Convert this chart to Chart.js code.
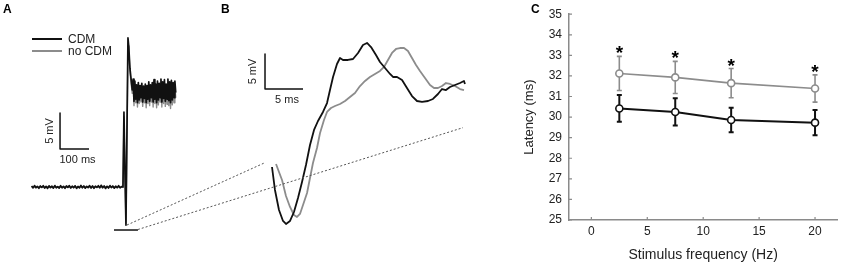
<!DOCTYPE html>
<html>
<head>
<meta charset="utf-8">
<script src="https://cdn.jsdelivr.net/npm/chart.js@4"></script>
<style>
  html, body { margin: 0; padding: 0; background: #fff; }
  #wrap { position: relative; width: 843px; height: 264px; overflow: hidden; }
  #traces { position: absolute; left: 0; top: 0; width: 500px; height: 264px; }
  #latency { position: absolute; left: 500px; top: 0; width: 343px; height: 264px; }
</style>
</head>
<body>
<div id="wrap">
  <canvas id="traces" width="500" height="264"></canvas>
  <canvas id="latency" width="343" height="264"></canvas>
</div>
<script>
const BLACK = '#111';
const GREY = '#8c8c8c';
const AXIS = '#8a8a8a';
const TEXT = '#222';
const FONT = '"Liberation Sans", Arial, sans-serif';

// ---- panel A: full recording, time in ms, voltage in mV ----
const aBaseStart = -315, aBaseStep = 5;
const aBaseBlack = [0.15, -0.12, 0.2, -0.1, 0.08, -0.18, 0.14, -0.05, 0.18, -0.15,
  0.1, -0.2, 0.16, -0.08, 0.12, -0.16, 0.2, -0.1, 0.06, -0.14,
  0.18, -0.12, 0.1, -0.18, 0.15, -0.06, 0.2, -0.15, 0.12, -0.1,
  0.17, -0.2, 0.08, -0.12, 0.22, -0.1, 0.14, -0.16, 0.1, -0.08,
  0.2, -0.14, 0.16, -0.18, 0.12, -0.06, 0.18, -0.12, 0.24, -0.1,
  0.15, -0.2, 0.1, -0.14, 0.2, -0.08, 0.14, -0.16, 0.12, -0.1,
  0.18, -0.12, 0.05];
const aSpikeBlack = [[0, 0], [3.4, 10.4], [6.9, 2], [10.3, -5.3], [13, 5], [17.2, 20.7],
  [20, 19.5], [24, 16.5], [28, 15], [32, 13.5]];
const aSpikeGrey = [[-315, 0], [0, 0], [3.4, 9.8], [6.9, 1.5], [10.3, -5.0], [13, 4],
  [17.5, 19.6], [20.5, 18.8], [24.5, 15.8], [28.5, 14.2], [32, 13]];
const aPlateauStart = 35, aPlateauStep = 3;
const aPlateauBlack = [15.0, 11.9, 14.7, 12.2, 14.2, 11.7, 14.5, 12.1, 14.1, 12.4,
  14.4, 11.8, 14.0, 12.3, 14.3, 11.7, 14.1, 12.2, 14.6, 11.9,
  14.2, 12.4, 14.5, 11.8, 14.9, 12.2, 14.3, 11.7, 14.7, 12.1,
  14.4, 12.4, 15.0, 11.8, 14.6, 12.3, 14.9, 11.9, 14.3, 12.2,
  15.0, 12.0, 14.6, 11.7, 14.8, 12.1, 14.5, 12.4, 14.7, 13.1];
const aPlateauGrey = [14.5, 11.3, 14.2, 11.7, 13.7, 11.1, 14.0, 11.6, 13.6, 11.8,
  13.9, 11.2, 13.5, 11.7, 13.8, 11.0, 13.6, 11.6, 14.1, 11.3,
  13.7, 11.8, 14.0, 11.1, 14.4, 11.6, 13.8, 11.0, 14.2, 11.4,
  13.9, 11.8, 14.5, 11.1, 14.1, 11.6, 14.4, 11.2, 13.8, 11.5,
  14.5, 11.3, 14.1, 10.9, 14.3, 11.4, 14.0, 11.7, 14.2, 12.4];
const aWindow = [[-31, -5.97], [51.7, -5.97]];
const aScaleBar = [[-217, 10.28], [-217, 5.28], [-117, 5.28]];

// ---- panel B: expanded response, time in ms, voltage in mV ----
const bBlack = [[0, -0.43], [0.39, -3.71], [0.92, -6.57], [1.45, -8.14], [1.84, -8.57],
  [2.37, -8.14], [2.89, -6.86], [3.42, -4.86], [3.95, -2.57], [4.47, -0.14],
  [5.0, 2.71], [5.53, 4.86], [6.05, 6.14], [6.71, 7.43], [7.24, 8.71],
  [7.63, 10.57], [8.03, 12.43], [8.55, 14.29], [8.95, 15.14], [9.34, 14.86],
  [10.0, 14.86], [10.66, 15.0], [11.32, 15.86], [11.97, 17.0], [12.5, 17.29],
  [13.03, 16.71], [13.68, 15.57], [14.21, 14.57], [14.87, 13.71], [15.53, 12.86],
  [15.92, 12.43], [16.45, 12.43], [17.11, 12.0], [17.76, 10.86], [18.42, 9.71],
  [19.08, 9.0], [19.74, 8.86], [20.53, 9.0], [21.18, 9.29], [21.84, 10.0],
  [22.37, 10.71], [22.89, 10.57], [23.42, 11.0], [24.08, 11.29], [24.74, 11.57],
  [25.26, 11.86], [25.39, 11.43]];
const bGrey = [[0.53, 0], [0.92, -1.14], [1.32, -2.29], [1.84, -4.57], [2.37, -6.14],
  [2.89, -7.29], [3.29, -7.57], [3.68, -7.14], [4.08, -5.86], [4.61, -4.14],
  [5.0, -2.0], [5.39, 0.14], [5.92, 2.29], [6.32, 4.43], [6.84, 6.29],
  [7.24, 7.43], [7.76, 8.0], [8.29, 8.29], [8.95, 8.57], [9.61, 9.0],
  [10.26, 9.57], [10.92, 10.14], [11.58, 11.14], [12.24, 11.86], [12.89, 12.43],
  [13.55, 12.86], [14.21, 13.29], [14.74, 13.86], [15.26, 14.86], [15.79, 15.86],
  [16.32, 16.43], [16.84, 16.57], [17.37, 16.57], [17.89, 16.14], [18.42, 15.14],
  [18.95, 14.14], [19.47, 13.29], [20.13, 12.29], [20.79, 11.29], [21.32, 10.86],
  [21.84, 10.86], [22.37, 11.14], [22.89, 11.57], [23.42, 11.43], [24.08, 11.14],
  [24.74, 10.71], [25.26, 10.57]];
const bScaleBar = [[-0.92, 15.71], [-0.92, 10.71], [4.08, 10.71]];

// dotted lines from the window in A (ms, mV) to the frame of B (ms, mV)
const zoomLinks = [
  { from: [13.8, -5.28], to: [-0.92, 0.19] },
  { from: [51.7, -5.9], to: [25.13, 5.19] }
];

// ---- panel C: latency vs stimulus frequency ----
const freqs = [2.5, 7.5, 12.5, 20];
const latNoCdm = [32.12, 31.93, 31.65, 31.39];
const semNoCdm = [0.83, 0.78, 0.71, 0.66];
const latCdm = [30.42, 30.25, 29.86, 29.73];
const semCdm = [0.65, 0.66, 0.6, 0.61];
const significant = [true, true, true, true];
const freqTicks = [0, 5, 10, 15, 20];

const pts = arr => arr.map(([x, y]) => ({ x, y }));
const sampled = (start, step, vals) => vals.map((y, i) => ({ x: start + i * step, y }));

const traceA = (base, spike, plateau) => [
  ...(base ? sampled(aBaseStart, aBaseStep, base) : []),
  ...pts(spike),
  ...sampled(aPlateauStart, aPlateauStep, plateau)
];

const line = (data, color, width, xs, ys) => ({
  data, xAxisID: xs, yAxisID: ys, borderColor: color, borderWidth: width,
  showLine: true, pointRadius: 0, fill: false, tension: 0, borderJoinStyle: 'round'
});

const tracesDecor = {
  id: 'tracesDecor',
  afterDatasetsDraw(chart) {
    const { ctx, scales: s } = chart;
    const px = (sx, sy, p) => [s[sx].getPixelForValue(p[0]), s[sy].getPixelForValue(p[1])];
    ctx.save();

    ctx.strokeStyle = '#555';
    ctx.lineWidth = 1;
    ctx.setLineDash([2, 2]);
    zoomLinks.forEach(l => {
      const a = px('xA', 'yA', l.from), b = px('xB', 'yB', l.to);
      ctx.beginPath();
      ctx.moveTo(a[0], a[1]);
      ctx.lineTo(b[0], b[1]);
      ctx.stroke();
    });
    ctx.setLineDash([]);

    ctx.fillStyle = '#000';
    ctx.font = 'bold 12px ' + FONT;
    ctx.textBaseline = 'top';
    ctx.fillText('A', 3, 4);
    ctx.fillText('B', 221, 4);

    // legend
    [['CDM', BLACK, 39], ['no CDM', GREY, 51]].forEach(([txt, col, y]) => {
      ctx.strokeStyle = col;
      ctx.lineWidth = 2;
      ctx.beginPath();
      ctx.moveTo(32, y);
      ctx.lineTo(62, y);
      ctx.stroke();
      ctx.fillStyle = TEXT;
      ctx.font = '12px ' + FONT;
      ctx.textBaseline = 'middle';
      ctx.textAlign = 'left';
      ctx.fillText(txt, 68, y + 1);
    });

    // scale bar labels
    const barLabels = (sx, sy, bar, vTxt, hTxt, dx, dy) => {
      const top = px(sx, sy, bar[0]), corner = px(sx, sy, bar[1]), end = px(sx, sy, bar[2]);
      ctx.fillStyle = TEXT;
      ctx.font = '11px ' + FONT;
      ctx.textAlign = 'center';
      ctx.textBaseline = 'middle';
      ctx.fillText(hTxt, (corner[0] + end[0]) / 2 + 3, corner[1] + dy);
      ctx.save();
      ctx.translate(corner[0] - dx, (top[1] + corner[1]) / 2);
      ctx.rotate(-Math.PI / 2);
      ctx.fillText(vTxt, 0, 0);
      ctx.restore();
    };
    barLabels('xA', 'yA', aScaleBar, '5 mV', '100 ms', 10, 11);
    barLabels('xB', 'yB', bScaleBar, '5 mV', '5 ms', 12, 11);
    ctx.restore();
  }
};

new Chart(document.getElementById('traces'), {
  type: 'scatter',
  data: {
    datasets: [
      line(pts(aWindow), BLACK, 1.5, 'xA', 'yA'),
      line(pts(aScaleBar), BLACK, 1.5, 'xA', 'yA'),
      line(traceA(aBaseBlack, aSpikeBlack, aPlateauBlack), BLACK, 1.7, 'xA', 'yA'),
      line(traceA(null, aSpikeGrey, aPlateauGrey), GREY, 1.4, 'xA', 'yA'),
      line(pts(bScaleBar), BLACK, 1.5, 'xB', 'yB'),
      line(pts(bBlack), BLACK, 1.8, 'xB', 'yB'),
      line(pts(bGrey), GREY, 1.8, 'xB', 'yB')
    ]
  },
  options: {
    responsive: false,
    animation: false,
    layout: { padding: 0 },
    plugins: { legend: { display: false }, tooltip: { enabled: false } },
    scales: {
      xA: { axis: 'x', type: 'linear', display: false, min: -424, max: 1300 },
      yA: { axis: 'y', type: 'linear', display: false, min: -10.69, max: 25.97 },
      xB: { axis: 'x', type: 'linear', display: false, min: -35.79, max: 30.0 },
      yB: { axis: 'y', type: 'linear', display: false, min: -14.29, max: 23.43 }
    }
  },
  plugins: [tracesDecor]
});

// error bars under the markers, inward ticks and stars on top
const errorBars = {
  id: 'errorBars',
  beforeDatasetsDraw(chart) {
    const { ctx, scales: { x, y } } = chart;
    ctx.save();
    chart.data.datasets.forEach(ds => {
      ctx.strokeStyle = ds.borderColor;
      ctx.lineWidth = ds.borderWidth;
      ds.data.forEach((p, i) => {
        const xp = x.getPixelForValue(p.x);
        const hi = y.getPixelForValue(p.y + ds.err[i]);
        const lo = y.getPixelForValue(p.y - ds.err[i]);
        ctx.beginPath();
        ctx.moveTo(xp, hi); ctx.lineTo(xp, lo);
        ctx.moveTo(xp - 2.5, hi); ctx.lineTo(xp + 2.5, hi);
        ctx.moveTo(xp - 2.5, lo); ctx.lineTo(xp + 2.5, lo);
        ctx.stroke();
      });
    });
    ctx.restore();
  },
  afterDraw(chart) {
    const { ctx, scales: { x, y } } = chart;
    ctx.save();
    ctx.strokeStyle = AXIS;
    ctx.lineWidth = 1.2;
    ctx.beginPath();
    x.ticks.forEach(t => {
      const xp = x.getPixelForValue(t.value);
      ctx.moveTo(xp, y.bottom); ctx.lineTo(xp, y.bottom - 3);
    });
    y.ticks.forEach(t => {
      const yp = y.getPixelForValue(t.value);
      ctx.moveTo(x.left, yp); ctx.lineTo(x.left + 3, yp);
    });
    ctx.stroke();

    ctx.fillStyle = '#000';
    ctx.font = 'bold 19px ' + FONT;
    ctx.textAlign = 'center';
    ctx.textBaseline = 'alphabetic';
    freqs.forEach((f, i) => {
      if (!significant[i]) return;
      ctx.fillText('*', x.getPixelForValue(f), y.getPixelForValue(latNoCdm[i] + semNoCdm[i]) + 3);
    });
    ctx.font = 'bold 12px ' + FONT;
    ctx.textAlign = 'left';
    ctx.textBaseline = 'top';
    ctx.fillText('C', 31, 4);
    ctx.restore();
  }
};

const series = (lat, sem, color, width) => ({
  data: freqs.map((f, i) => ({ x: f, y: lat[i] })),
  err: sem,
  borderColor: color,
  borderWidth: width,
  showLine: true,
  pointRadius: 3.5,
  pointBackgroundColor: '#fff',
  pointBorderColor: color,
  pointBorderWidth: 1.6
});

new Chart(document.getElementById('latency'), {
  type: 'scatter',
  data: {
    datasets: [
      series(latCdm, semCdm, BLACK, 2),
      series(latNoCdm, semNoCdm, GREY, 1.6)
    ]
  },
  options: {
    responsive: false,
    animation: false,
    layout: { padding: { top: 6, right: 1, left: 0, bottom: 0 } },
    plugins: { legend: { display: false }, tooltip: { enabled: false } },
    scales: {
      x: {
        type: 'linear', min: -2, max: 22,
        afterBuildTicks: s => { s.ticks = freqTicks.map(v => ({ value: v })); },
        afterFit: s => { s.height = 44; },
        grid: { display: false, drawTicks: false },
        border: { color: AXIS, width: 1.5 },
        ticks: { color: TEXT, font: { family: FONT, size: 12 }, padding: 4 },
        title: { display: true, text: 'Stimulus frequency (Hz)', color: TEXT,
          font: { family: FONT, size: 14 }, padding: { top: 0, bottom: 0 } }
      },
      y: {
        type: 'linear', min: 25, max: 35,
        ticks: { stepSize: 1, color: TEXT, font: { family: FONT, size: 12 }, padding: 7 },
        afterFit: s => { s.width = 69; },
        grid: { display: false, drawTicks: false },
        border: { color: AXIS, width: 1.5 },
        title: { display: true, text: 'Latency (ms)', color: TEXT,
          font: { family: FONT, size: 13 }, padding: { top: 22, bottom: 0 } }
      }
    }
  },
  plugins: [errorBars]
});
</script>
</body>
</html>
